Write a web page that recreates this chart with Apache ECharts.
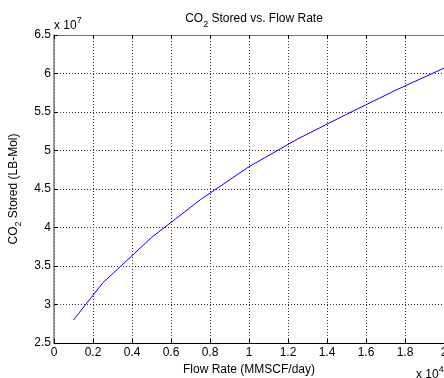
<!DOCTYPE html>
<html>
<head>
<meta charset="utf-8">
<script src="https://cdn.jsdelivr.net/npm/echarts@6/dist/echarts.min.js"></script>
<style>
  html, body { margin: 0; padding: 0; background: #fff; }
  #chart { width: 444px; height: 378px; }
</style>
</head>
<body>
<div id="chart"></div>
<script>
// flow rate in MMSCF/day, CO2 stored in LB-Mol
const flowRate = [1000, 2500, 5000, 7500, 10000, 12500, 15000, 17500, 20000]
const co2Stored = [2.80e7, 3.28e7, 3.87e7, 4.36e7, 4.79e7, 5.15e7, 5.47e7, 5.78e7, 6.07e7]

const xTicks = { min: 0, max: 20000, interval: 2000, scale: 1e4 }
const yTicks = { min: 2.5e7, max: 6.5e7, interval: 0.5e7, scale: 1e7 }

const font = '"Liberation Sans", Arial, sans-serif'
const fontSize = 12
const textColor = '#000'

const fmt = (v, s) => String(parseFloat((v / s).toFixed(2)))

const chart = echarts.init(document.getElementById('chart'))

const dotted = { type: [1, 2], color: '#333', width: 1 }

const richSub = {
  n: { fontFamily: font, fontSize: fontSize, fontWeight: 'normal', color: textColor, lineHeight: 16, verticalAlign: 'top' },
  s: { fontFamily: font, fontSize: 9, fontWeight: 'normal', color: textColor, lineHeight: 16, verticalAlign: 'bottom' },
}

const richSup = {
  n: { fontFamily: font, fontSize: fontSize, fill: textColor, lineHeight: 16, verticalAlign: 'bottom' },
  p: { fontFamily: font, fontSize: 9, fill: textColor, lineHeight: 16, verticalAlign: 'top' },
}

const option = {
  animation: false,
  textStyle: { fontFamily: font },
  title: {
    text: '{n|CO}{s|2}{n| Stored vs. Flow Rate}',
    left: 249,
    top: 8,
    textAlign: 'center',
    textStyle: { fontWeight: 'normal', rich: richSub },
  },
  grid: {
    left: 54,
    top: 35,
    right: 0,
    bottom: 35,
    containLabel: false,
    outerBoundsMode: 'none',
  },
  xAxis: [
    {
      type: 'value',
      min: xTicks.min,
      max: xTicks.max,
      interval: xTicks.interval,
      name: 'Flow Rate (MMSCF/day)',
      nameLocation: 'middle',
      nameGap: 20,
      nameTextStyle: { fontSize: fontSize, color: textColor, fontFamily: font },
      axisLine: { show: true, lineStyle: { color: '#000', width: 1 } },
      axisTick: { show: true, inside: true, length: 4, lineStyle: { color: '#000' } },
      axisLabel: {
        fontSize: fontSize,
        color: textColor,
        margin: 4,
        formatter: (v) => fmt(v, xTicks.scale),
      },
      splitLine: { show: true, lineStyle: dotted },
    },
    {
      type: 'value',
      position: 'top',
      min: xTicks.min,
      max: xTicks.max,
      interval: xTicks.interval,
      axisLine: { show: true, lineStyle: { color: '#777', width: 1 } },
      axisTick: { show: true, inside: true, length: 4, lineStyle: { color: '#000' } },
      axisLabel: { show: false },
      splitLine: { show: false },
    },
  ],
  yAxis: {
    type: 'value',
    min: yTicks.min,
    max: yTicks.max,
    interval: yTicks.interval,
    name: '{n|CO}{s|2}{n| Stored (LB-Mol)}',
    nameLocation: 'middle',
    nameRotate: 90,
    nameGap: 30,
    nameTextStyle: { rich: richSub },
    axisLine: { show: true, lineStyle: { color: '#777', width: 1.5 } },
    axisTick: { show: true, inside: true, length: 4, lineStyle: { color: '#000' } },
    axisLabel: {
      fontSize: fontSize,
      color: textColor,
      margin: 3,
      formatter: (v) => fmt(v, yTicks.scale),
    },
    splitLine: { show: true, lineStyle: dotted },
  },
  graphic: [
    {
      type: 'text',
      left: 54,
      top: 16,
      style: { text: '{n|x 10}{p|7}', rich: richSup },
    },
    {
      type: 'text',
      left: 416,
      top: 365,
      style: { text: '{n|x 10}{p|4}', rich: richSup },
    },
  ],
  series: [
    {
      name: 'CO2 Stored',
      type: 'line',
      data: flowRate.map((x, i) => [x, co2Stored[i]]),
      symbol: 'none',
      smooth: false,
      lineStyle: { color: '#0000ff', width: 1 },
    },
  ],
}

chart.setOption(option)
</script>
</body>
</html>
